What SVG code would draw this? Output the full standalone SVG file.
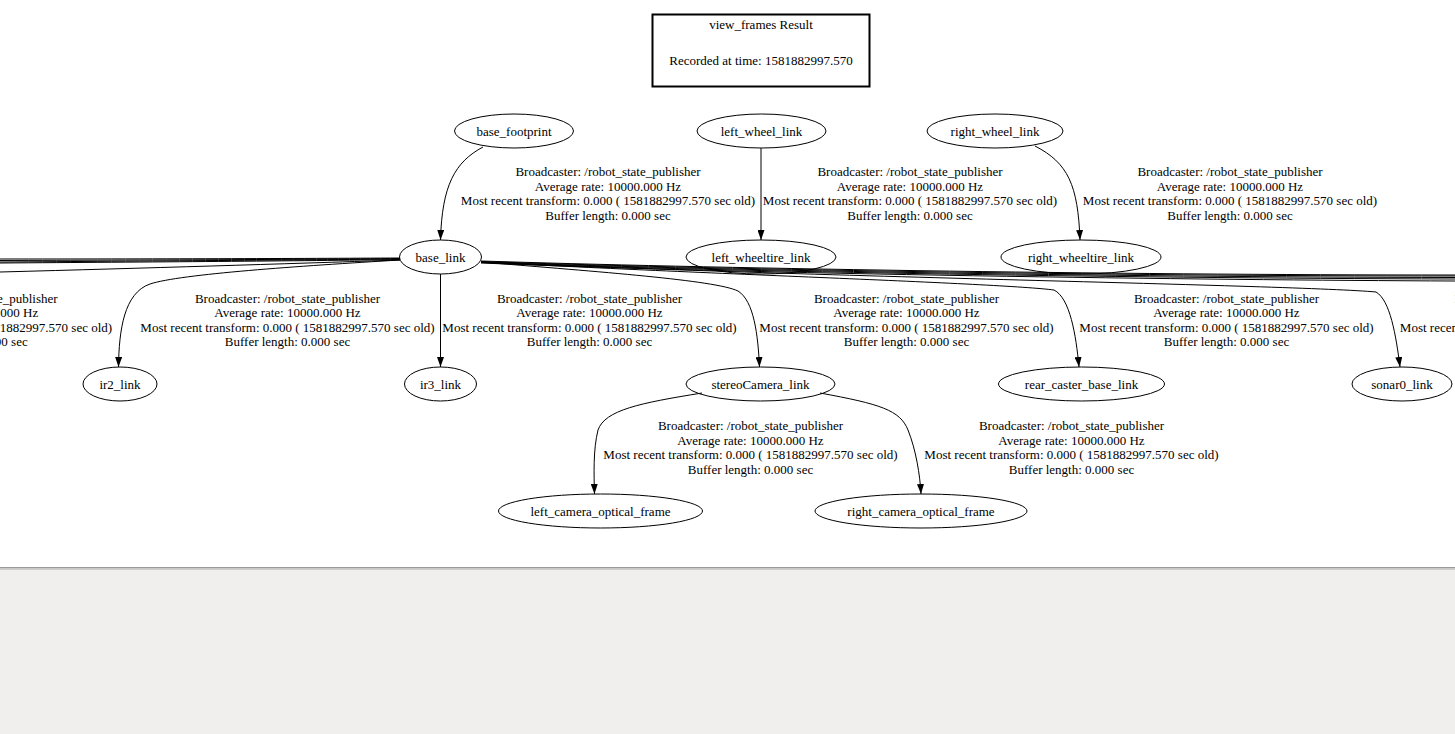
<svg xmlns="http://www.w3.org/2000/svg" width="1455" height="734" viewBox="0 0 1455 734">
<defs>
<marker id="ah" viewBox="0 0 10 7" refX="10" refY="3.5" markerWidth="10" markerHeight="7" markerUnits="userSpaceOnUse" orient="auto">
<path d="M0,0 L10,3.5 L0,7 Z" fill="#000"/>
</marker>
<style>
text{font-family:"Liberation Serif","Times New Roman",serif;font-size:13px;fill:#000;text-anchor:middle}
.node ellipse{fill:none;stroke:#000;stroke-width:1}
.e{fill:none;stroke:#000;stroke-width:1}
.a{marker-end:url(#ah)}
</style>
</defs>
<rect x="0" y="0" width="1455" height="734" fill="#f0efed"/>
<rect x="0" y="0" width="1455" height="567" fill="#fff"/>
<rect x="0" y="567" width="1455" height="1.5" fill="#9a9a9a"/>
<rect x="0" y="568.5" width="1455" height="1.5" fill="#cfcecc"/>

<g id="title">
<rect x="652.5" y="14.5" width="217" height="72" fill="none" stroke="#000" stroke-width="2"/>
<text x="761" y="29">view_frames Result</text>
<text x="761" y="65">Recorded at time: 1581882997.570</text>
</g>

<g id="connectors">
<path class="e a" d="M483,147 C455,162 442,185 440.5,240"/>
<path class="e a" d="M761,148 L761,240"/>
<path class="e a" d="M1035,146 C1068,163 1078,185 1080,240"/>
<!-- left bundle -->
<path class="e" d="M400,258 C300,258.5 150,259 0,259"/>
<path class="e" d="M400,258.5 C300,259.5 150,260 0,260.5"/>
<path class="e" d="M400,259 C300,260 150,261 0,262"/>
<path class="e" d="M400,259.5 C300,261 150,262 0,263"/>
<path class="e" d="M400,260 C280,264 150,268 0,272"/>
<path class="e a" d="M400,260 C300,266 180,274 150,284 C124,293 119,330 118.5,367"/>
<path class="e a" d="M440.5,274 L440.5,367"/>
<!-- right bundle -->
<path class="e" d="M481,261 C700,268 1100,275 1455,275"/>
<path class="e" d="M481,261.5 C700,269 1100,276 1455,276"/>
<path class="e" d="M481,262 C700,270 1100,277 1455,277.5"/>
<path class="e" d="M481,262.5 C700,271 1100,278 1455,279"/>
<path class="e" d="M481,263 C750,274 1200,280 1455,281"/>
<path class="e a" d="M481,262 C600,272 715,280 738,291 C754,301 758,335 759.5,367"/>
<path class="e a" d="M481,262 C700,274 1000,283 1054,290 C1070,298 1076,335 1079,367"/>
<path class="e a" d="M481,262 C800,277 1300,285 1376,292 C1390,300 1396,335 1400,367"/>
<path class="e a" d="M702,393 C640,403 605,410 598,430 C593,450 594,475 594.5,494"/>
<path class="e a" d="M820,393 C880,404 900,410 908,430 C916,450 920,475 921,494"/>
</g>

<g id="labels">
<text x="608" y="176">Broadcaster: /robot_state_publisher</text>
<text x="608" y="190.5">Average rate: 10000.000 Hz</text>
<text x="608" y="205">Most recent transform: 0.000 ( 1581882997.570 sec old)</text>
<text x="608" y="219.5">Buffer length: 0.000 sec</text>

<text x="910" y="176">Broadcaster: /robot_state_publisher</text>
<text x="910" y="190.5">Average rate: 10000.000 Hz</text>
<text x="910" y="205">Most recent transform: 0.000 ( 1581882997.570 sec old)</text>
<text x="910" y="219.5">Buffer length: 0.000 sec</text>

<text x="1230" y="176">Broadcaster: /robot_state_publisher</text>
<text x="1230" y="190.5">Average rate: 10000.000 Hz</text>
<text x="1230" y="205">Most recent transform: 0.000 ( 1581882997.570 sec old)</text>
<text x="1230" y="219.5">Buffer length: 0.000 sec</text>

<text x="-35" y="302.5">Broadcaster: /robot_state_publisher</text>
<text x="-35" y="317">Average rate: 10000.000 Hz</text>
<text x="-35" y="331.5">Most recent transform: 0.000 ( 1581882997.570 sec old)</text>
<text x="-35" y="346">Buffer length: 0.000 sec</text>

<text x="287.5" y="302.5">Broadcaster: /robot_state_publisher</text>
<text x="287.5" y="317">Average rate: 10000.000 Hz</text>
<text x="287.5" y="331.5">Most recent transform: 0.000 ( 1581882997.570 sec old)</text>
<text x="287.5" y="346">Buffer length: 0.000 sec</text>

<text x="589.5" y="302.5">Broadcaster: /robot_state_publisher</text>
<text x="589.5" y="317">Average rate: 10000.000 Hz</text>
<text x="589.5" y="331.5">Most recent transform: 0.000 ( 1581882997.570 sec old)</text>
<text x="589.5" y="346">Buffer length: 0.000 sec</text>

<text x="906.5" y="302.5">Broadcaster: /robot_state_publisher</text>
<text x="906.5" y="317">Average rate: 10000.000 Hz</text>
<text x="906.5" y="331.5">Most recent transform: 0.000 ( 1581882997.570 sec old)</text>
<text x="906.5" y="346">Buffer length: 0.000 sec</text>

<text x="1226.5" y="302.5">Broadcaster: /robot_state_publisher</text>
<text x="1226.5" y="317">Average rate: 10000.000 Hz</text>
<text x="1226.5" y="331.5">Most recent transform: 0.000 ( 1581882997.570 sec old)</text>
<text x="1226.5" y="346">Buffer length: 0.000 sec</text>

<text x="1547" y="302.5">Broadcaster: /robot_state_publisher</text>
<text x="1547" y="317">Average rate: 10000.000 Hz</text>
<text x="1547" y="331.5">Most recent transform: 0.000 ( 1581882997.570 sec old)</text>
<text x="1547" y="346">Buffer length: 0.000 sec</text>

<text x="750.5" y="430">Broadcaster: /robot_state_publisher</text>
<text x="750.5" y="444.5">Average rate: 10000.000 Hz</text>
<text x="750.5" y="459">Most recent transform: 0.000 ( 1581882997.570 sec old)</text>
<text x="750.5" y="473.5">Buffer length: 0.000 sec</text>

<text x="1071.5" y="430">Broadcaster: /robot_state_publisher</text>
<text x="1071.5" y="444.5">Average rate: 10000.000 Hz</text>
<text x="1071.5" y="459">Most recent transform: 0.000 ( 1581882997.570 sec old)</text>
<text x="1071.5" y="473.5">Buffer length: 0.000 sec</text>
</g>

<g id="base_footprint" class="node"><ellipse cx="514" cy="131" rx="59.5" ry="17"/><text x="514" y="135.5">base_footprint</text></g>
<g id="left_wheel_link" class="node"><ellipse cx="761.5" cy="131" rx="64.5" ry="17"/><text x="761.5" y="135.5">left_wheel_link</text></g>
<g id="right_wheel_link" class="node"><ellipse cx="995" cy="131" rx="68" ry="17"/><text x="995" y="135.5">right_wheel_link</text></g>
<g id="base_link" class="node"><ellipse cx="440.5" cy="257" rx="41" ry="17"/><text x="440.5" y="261.5">base_link</text></g>
<g id="left_wheeltire_link" class="node"><ellipse cx="761" cy="257" rx="75" ry="17"/><text x="761" y="261.5">left_wheeltire_link</text></g>
<g id="right_wheeltire_link" class="node"><ellipse cx="1081" cy="257" rx="80" ry="17"/><text x="1081" y="261.5">right_wheeltire_link</text></g>
<g id="ir2_link" class="node"><ellipse cx="120" cy="384" rx="37" ry="17"/><text x="120" y="388.5">ir2_link</text></g>
<g id="ir3_link" class="node"><ellipse cx="440.5" cy="384" rx="36" ry="17"/><text x="440.5" y="388.5">ir3_link</text></g>
<g id="stereoCamera_link" class="node"><ellipse cx="760.5" cy="384" rx="74.5" ry="17"/><text x="760.5" y="388.5">stereoCamera_link</text></g>
<g id="rear_caster_base_link" class="node"><ellipse cx="1081.5" cy="384" rx="83" ry="17"/><text x="1081.5" y="388.5">rear_caster_base_link</text></g>
<g id="sonar0_link" class="node"><ellipse cx="1402" cy="384" rx="50" ry="17"/><text x="1402" y="388.5">sonar0_link</text></g>
<g id="left_camera_optical_frame" class="node"><ellipse cx="600.5" cy="511" rx="102" ry="17"/><text x="600.5" y="515.5">left_camera_optical_frame</text></g>
<g id="right_camera_optical_frame" class="node"><ellipse cx="921" cy="511" rx="106" ry="17"/><text x="921" y="515.5">right_camera_optical_frame</text></g>
</svg>
